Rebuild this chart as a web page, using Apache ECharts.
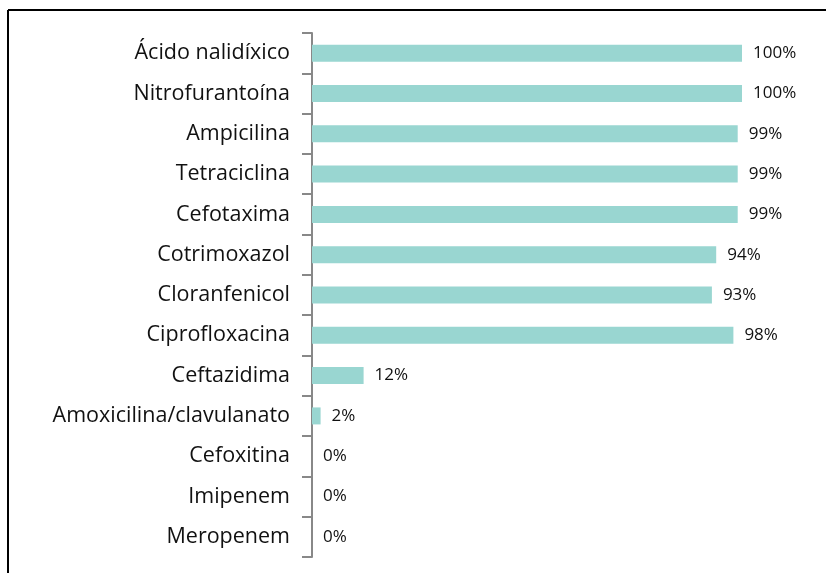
<!DOCTYPE html>
<html>
<head>
<meta charset="utf-8">
<script src="https://cdn.jsdelivr.net/npm/echarts@6/dist/echarts.min.js"></script>
<style>
  html, body { margin: 0; padding: 0; background: #fff; }
  #chart { width: 826px; height: 573px; }
</style>
</head>
<body>
<div id="chart"></div>
<script>
const drugs = [
  "Ácido nalidíxico",
  "Nitrofurantoína",
  "Ampicilina",
  "Tetraciclina",
  "Cefotaxima",
  "Cotrimoxazol",
  "Cloranfenicol",
  "Ciprofloxacina",
  "Ceftazidima",
  "Amoxicilina/clavulanato",
  "Cefoxitina",
  "Imipenem",
  "Meropenem",
];
const resistance = [100, 100, 99, 99, 99, 94, 93, 98, 12, 2, 0, 0, 0];

const chart = echarts.init(document.getElementById("chart"));

chart.setOption({
  animation: false,
  grid: { left: 312, right: 84, top: 33, bottom: 16 },
  xAxis: {
    type: "value",
    min: 0,
    max: 100,
    show: false,
  },
  yAxis: {
    type: "category",
    data: drugs,
    inverse: true,
    axisLine: { show: true, lineStyle: { color: "#888", width: 2 } },
    axisTick: { show: true, alignWithLabel: false, length: 10, lineStyle: { color: "#888", width: 2 } },
    axisLabel: {
      margin: 22,
      fontFamily: "Open Sans",
      fontSize: 21.5,
      color: "#111",
    },
  },
  series: [
    {
      type: "bar",
      data: resistance,
      barWidth: 17,
      itemStyle: { color: "#99d6d1" },
      label: {
        show: true,
        position: "right",
        distance: 11,
        formatter: "{c}%",
        fontFamily: "Open Sans",
        fontSize: 17,
        color: "#111",
      },
    },
  ],
  graphic: [
    { type: "line", shape: { x1: 8, y1: 10, x2: 826, y2: 10 }, style: { stroke: "#000", lineWidth: 2 } },
    { type: "line", shape: { x1: 8, y1: 10, x2: 8, y2: 573 }, style: { stroke: "#000", lineWidth: 2 } },
  ],
});

window.addEventListener("resize", () => chart && chart.resize());
</script>
</body>
</html>
